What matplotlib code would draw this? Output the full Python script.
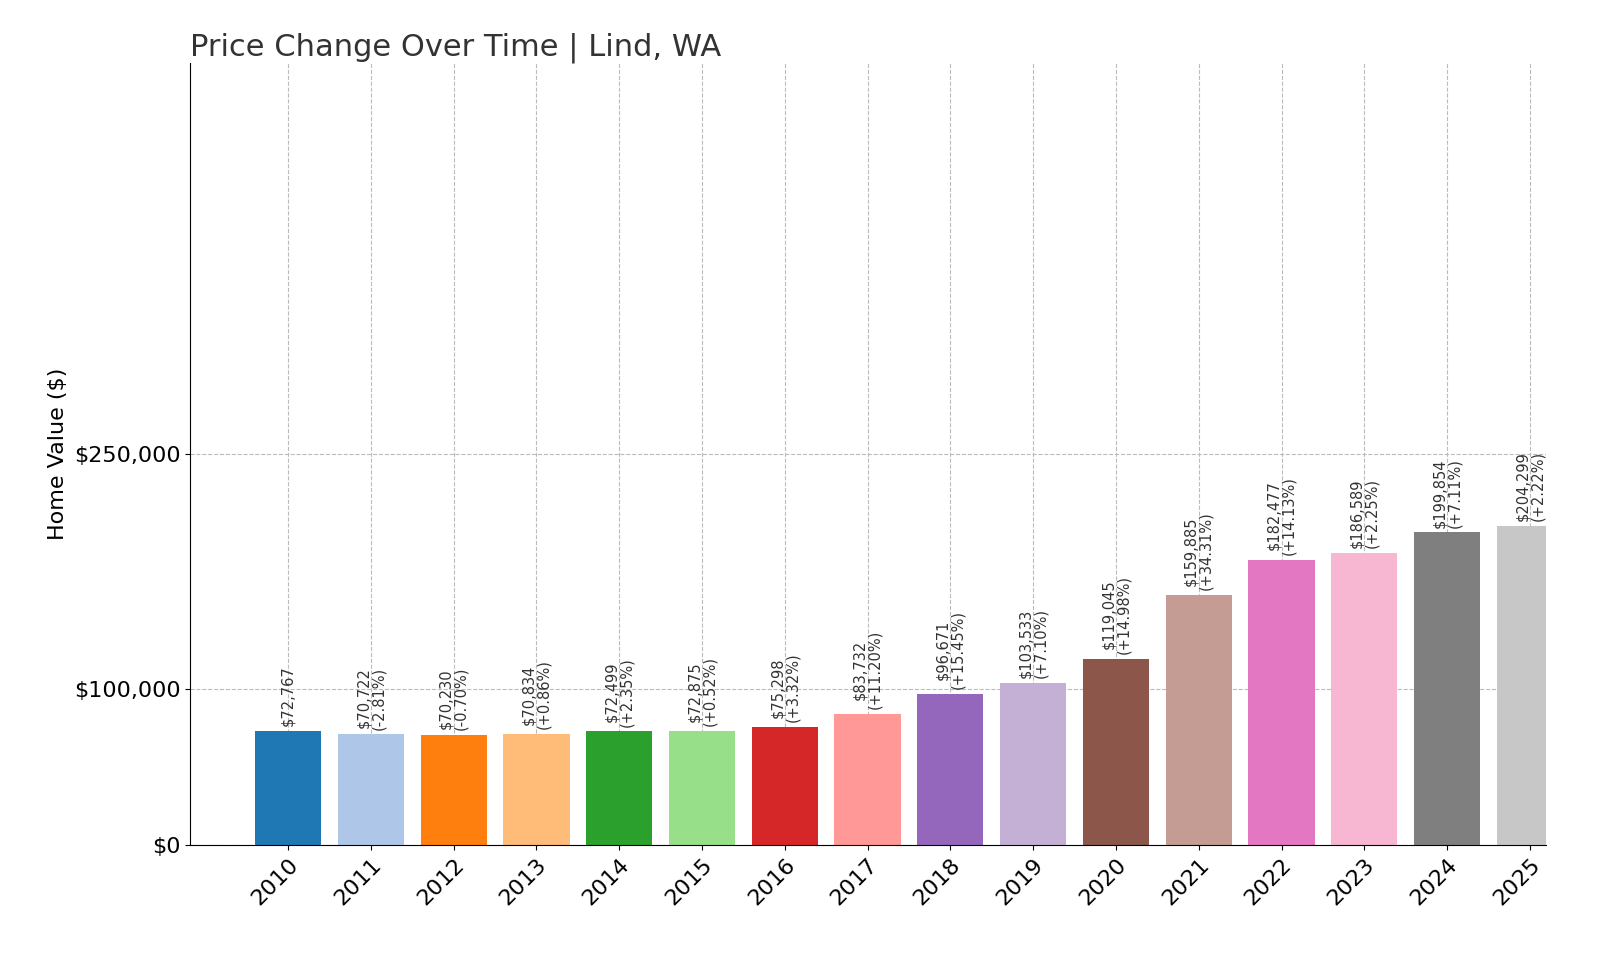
import matplotlib.pyplot as plt

years = ["2010", "2011", "2012", "2013", "2014", "2015", "2016", "2017",
         "2018", "2019", "2020", "2021", "2022", "2023", "2024", "2025"]
values = [72767, 70722, 70230, 70834, 72499, 72875, 75298, 83732,
          96671, 103533, 119045, 159885, 182477, 186589, 199854, 204299]
changes = [None, "-2.81%", "-0.70%", "+0.86%", "+2.35%", "+0.52%", "+3.32%", "+11.20%",
           "+15.45%", "+7.10%", "+14.98%", "+34.31%", "+14.13%", "+2.25%", "+7.11%", "+2.22%"]

colors = plt.get_cmap("tab20").colors

fig = plt.figure(figsize=(16, 9.6), dpi=100)
ax = fig.add_axes([0.119, 0.12, 0.847, 0.814])
x = list(range(len(years)))
ax.bar(x, values, width=0.8, color=colors[:len(years)], zorder=2)

for i, v in enumerate(values):
    label = f"${v:,}" if changes[i] is None else f"${v:,}\n({changes[i]})"
    ax.text(i, v + 3000, label, rotation=90, ha="center", va="bottom",
            fontsize=10.5, color="#333333", zorder=3, linespacing=1.0)

ax.set_xlim(-1.18, 15.19)
ax.set_ylim(0, 500000)
ax.set_yticks([0, 100000, 250000])
ax.set_yticklabels(["$0", "$100,000", "$250,000"], fontsize=16)
ax.set_xticks(x)
ax.set_xticklabels(years, rotation=45, ha="right", rotation_mode="anchor", fontsize=16)
ax.set_ylabel("Home Value ($)", fontsize=16)
ax.grid(True, linestyle="--", color="#bbbbbb", linewidth=0.8, zorder=0)
ax.spines["top"].set_visible(False)
ax.spines["right"].set_visible(False)
ax.set_title("Price Change Over Time | Lind, WA", loc="left", fontsize=22, color="#333333")

fig.savefig("out.png", dpi=100)
